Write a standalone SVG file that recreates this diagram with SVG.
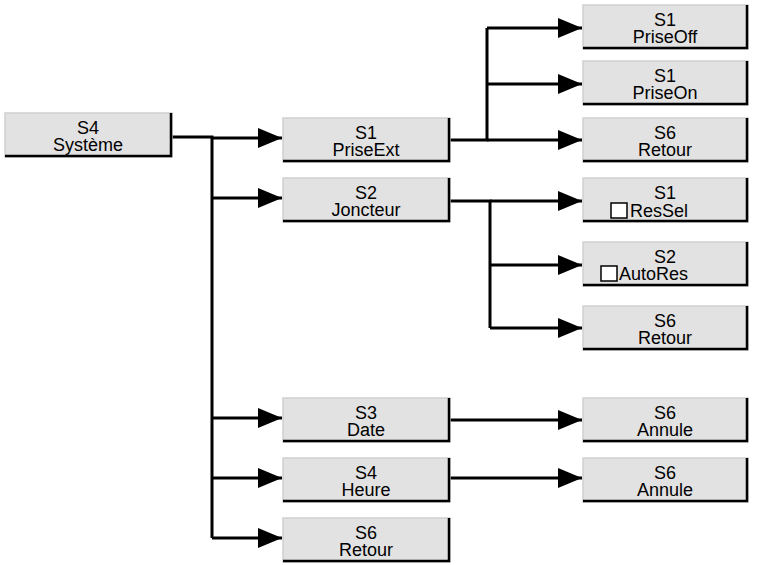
<svg xmlns="http://www.w3.org/2000/svg" width="757" height="565" viewBox="0 0 757 565">
<style>
.b{fill:#e2e2e2;stroke:#d0d0d0;stroke-width:1.5}
.s{fill:none;stroke:#000;stroke-width:2.5}
text{font-family:"Liberation Sans",Arial,sans-serif;font-size:18px;text-anchor:middle;fill:#000}
text.l{text-anchor:start}
.c line,.c polyline{stroke:#000;stroke-width:3;fill:none}
.cb{fill:#fff;stroke:#000;stroke-width:1.5}
</style>
<defs>
<marker id="m" markerWidth="24" markerHeight="20" refX="24" refY="10" orient="auto" markerUnits="userSpaceOnUse"><path d="M0,0L24,10L0,20z" fill="#000"/></marker>
</defs>
<g class="c">
<polyline points="172,137 212,137 212,538"/>
<line x1="212" y1="138" x2="282" y2="138" marker-end="url(#m)"/>
<line x1="212" y1="198" x2="282" y2="198" marker-end="url(#m)"/>
<line x1="212" y1="418" x2="282" y2="418" marker-end="url(#m)"/>
<line x1="212" y1="478" x2="282" y2="478" marker-end="url(#m)"/>
<line x1="212" y1="538" x2="282" y2="538" marker-end="url(#m)"/>
<polyline points="450,140 487,140 487,28"/>
<line x1="487" y1="28" x2="582" y2="28" marker-end="url(#m)"/>
<line x1="487" y1="84" x2="582" y2="84" marker-end="url(#m)"/>
<line x1="487" y1="140" x2="582" y2="140" marker-end="url(#m)"/>
<polyline points="450,201 490,201 490,328"/>
<line x1="490" y1="201" x2="582" y2="201" marker-end="url(#m)"/>
<line x1="490" y1="265" x2="582" y2="265" marker-end="url(#m)"/>
<line x1="490" y1="328" x2="582" y2="328" marker-end="url(#m)"/>
<line x1="450" y1="420" x2="582" y2="420" marker-end="url(#m)"/>
<line x1="450" y1="478" x2="582" y2="478" marker-end="url(#m)"/>
</g>
<g id="n0"><rect class="b" x="5" y="113" width="167" height="44"/><polyline class="s" points="171,113 171,156 5,156"/><text x="88" y="134">S4</text><text x="88" y="151">Système</text></g>
<g id="n1"><rect class="b" x="283" y="118" width="167" height="44"/><polyline class="s" points="449,118 449,161 283,161"/><text x="366" y="139">S1</text><text x="366" y="156">PriseExt</text></g>
<g id="n2"><rect class="b" x="283" y="178" width="167" height="44"/><polyline class="s" points="449,178 449,221 283,221"/><text x="366" y="199">S2</text><text x="366" y="216">Joncteur</text></g>
<g id="n3"><rect class="b" x="283" y="398" width="167" height="44"/><polyline class="s" points="449,398 449,441 283,441"/><text x="366" y="419">S3</text><text x="366" y="436">Date</text></g>
<g id="n4"><rect class="b" x="283" y="458" width="167" height="44"/><polyline class="s" points="449,458 449,501 283,501"/><text x="366" y="479">S4</text><text x="366" y="496">Heure</text></g>
<g id="n5"><rect class="b" x="283" y="518" width="167" height="44"/><polyline class="s" points="449,518 449,561 283,561"/><text x="366" y="539">S6</text><text x="366" y="556">Retour</text></g>
<g id="n6"><rect class="b" x="583" y="5" width="165" height="44"/><polyline class="s" points="747,5 747,48 583,48"/><text x="665" y="26">S1</text><text x="665" y="43">PriseOff</text></g>
<g id="n7"><rect class="b" x="583" y="61" width="165" height="44"/><polyline class="s" points="747,61 747,104 583,104"/><text x="665" y="82">S1</text><text x="665" y="99">PriseOn</text></g>
<g id="n8"><rect class="b" x="583" y="118" width="165" height="44"/><polyline class="s" points="747,118 747,161 583,161"/><text x="665" y="139">S6</text><text x="665" y="156">Retour</text></g>
<g id="n9"><rect class="b" x="583" y="178" width="165" height="44"/><polyline class="s" points="747,178 747,221 583,221"/><text x="665" y="199">S1</text><rect class="cb" x="611" y="203" width="16" height="15"/><text class="l" x="630" y="217">ResSel</text></g>
<g id="n10"><rect class="b" x="583" y="242" width="165" height="44"/><polyline class="s" points="747,242 747,285 583,285"/><text x="665" y="263">S2</text><rect class="cb" x="601" y="266" width="16" height="15"/><text class="l" x="619" y="280">AutoRes</text></g>
<g id="n11"><rect class="b" x="583" y="306" width="165" height="44"/><polyline class="s" points="747,306 747,349 583,349"/><text x="665" y="327">S6</text><text x="665" y="344">Retour</text></g>
<g id="n12"><rect class="b" x="583" y="398" width="165" height="44"/><polyline class="s" points="747,398 747,441 583,441"/><text x="665" y="419">S6</text><text x="665" y="436">Annule</text></g>
<g id="n13"><rect class="b" x="583" y="458" width="165" height="44"/><polyline class="s" points="747,458 747,501 583,501"/><text x="665" y="479">S6</text><text x="665" y="496">Annule</text></g>
</svg>
